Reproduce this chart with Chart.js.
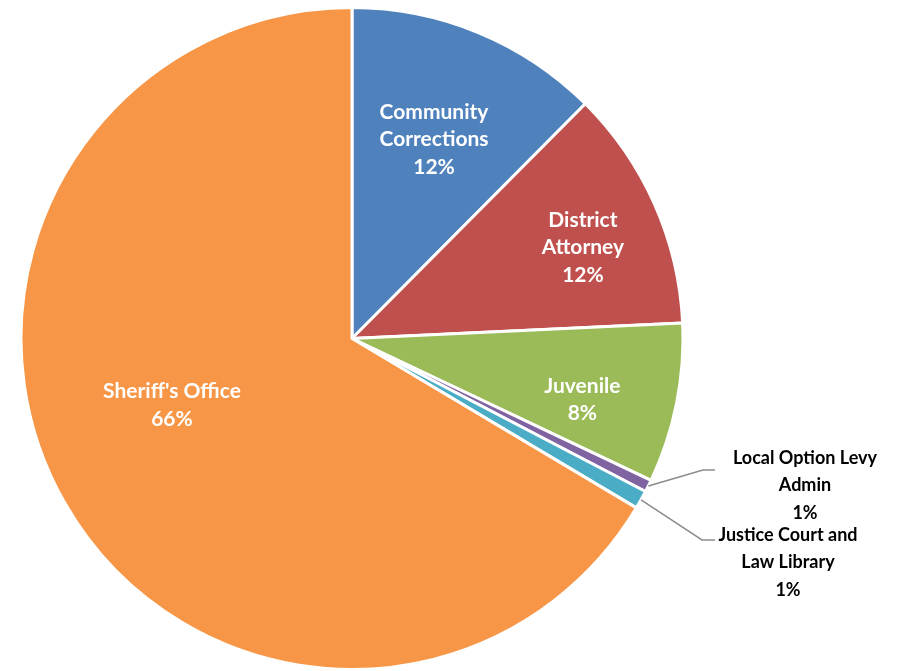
<!DOCTYPE html>
<html>
<head>
<meta charset="utf-8">
<script src="https://cdn.jsdelivr.net/npm/chart.js@4.4.1/dist/chart.umd.min.js"></script>
<style>
  html, body { margin: 0; padding: 0; background: #fff; }
  #wrap { width: 897px; height: 671px; }
</style>
</head>
<body>
<div id="wrap"><canvas id="pie" width="897" height="671"></canvas></div>
<script>
// slices, clockwise from 12 o'clock
const categories = [
  'Community Corrections',
  'District Attorney',
  'Juvenile',
  'Local Option Levy Admin',
  'Justice Court and Law Library',
  "Sheriff's Office"
];
const shares = [12.45, 11.8, 7.8, 0.6, 0.9, 66.45];
// how each label is broken into lines (as on the original)
const labelLines = [
  ['Community', 'Corrections'],
  ['District', 'Attorney'],
  ['Juvenile'],
  ['Local Option Levy', 'Admin'],
  ['Justice Court and', 'Law Library'],
  ["Sheriff's Office"]
];

const colors = ['#4F81BD', '#C0504D', '#9BBB59', '#8064A2', '#4BACC6', '#F79646'];

// where the labels go: inside = polar spot in the slice, outside = callout with leader line
const placement = [
  { inside: true, r: 0.65, shift: 0 },
  { inside: true, r: 0.75, shift: 2.4 },
  { inside: true, r: 0.72, shift: 3.5 },
  { inside: false, elbow: [703, 470], end: [715, 470], textX: 805, textY: 458 },
  { inside: false, elbow: [702, 540], end: [715, 540], textX: 788, textY: 535 },
  { inside: true, r: 0.58, shift: 9.3 }
];

const FONT_IN = 'bold 21px Lato, "Open Sans", sans-serif';
const FONT_OUT = 'bold 18px Lato, "Open Sans", sans-serif';
const LINE_H = 27.5;

const sliceLabels = {
  id: 'sliceLabels',
  afterDatasetsDraw(chart) {
    const ctx = chart.ctx;
    const meta = chart.getDatasetMeta(0);
    const data = chart.data.datasets[0].data;
    const total = data.reduce((a, b) => a + b, 0);
    ctx.save();
    ctx.textAlign = 'center';
    ctx.textBaseline = 'middle';
    meta.data.forEach((arc, i) => {
      const p = arc.getProps(['x', 'y', 'startAngle', 'endAngle', 'outerRadius'], true);
      const pct = Math.round(data[i] / total * 100) + '%';
      const lines = labelLines[i].concat([pct]);
      const opt = placement[i];
      const mid = (p.startAngle + p.endAngle) / 2;
      if (opt.inside) {
        const a = mid + opt.shift * Math.PI / 180;
        const cx = p.x + Math.cos(a) * p.outerRadius * opt.r;
        const cy = p.y + Math.sin(a) * p.outerRadius * opt.r;
        const y0 = cy - (lines.length - 1) * LINE_H / 2;
        ctx.font = FONT_IN;
        ctx.fillStyle = '#ffffff';
        lines.forEach((t, k) => ctx.fillText(t, cx, y0 + k * LINE_H));
      } else {
        const sx = p.x + Math.cos(mid) * p.outerRadius;
        const sy = p.y + Math.sin(mid) * p.outerRadius;
        ctx.strokeStyle = '#8c8c8c';
        ctx.lineWidth = 1.5;
        ctx.beginPath();
        ctx.moveTo(sx, sy);
        ctx.lineTo(opt.elbow[0], opt.elbow[1]);
        ctx.lineTo(opt.end[0], opt.end[1]);
        ctx.stroke();
        ctx.font = FONT_OUT;
        ctx.fillStyle = '#000000';
        lines.forEach((t, k) => ctx.fillText(t, opt.textX, opt.textY + k * LINE_H));
      }
    });
    ctx.restore();
  }
};

new Chart(document.getElementById('pie'), {
  type: 'pie',
  data: {
    labels: categories,
    datasets: [{
      data: shares,
      backgroundColor: colors,
      borderColor: '#ffffff',
      borderWidth: 3
    }]
  },
  options: {
    responsive: false,
    animation: false,
    layout: { padding: { left: 19, top: 6, right: 212, bottom: 0 } },
    plugins: {
      legend: { display: false },
      tooltip: { enabled: false }
    }
  },
  plugins: [sliceLabels]
});
</script>
</body>
</html>
